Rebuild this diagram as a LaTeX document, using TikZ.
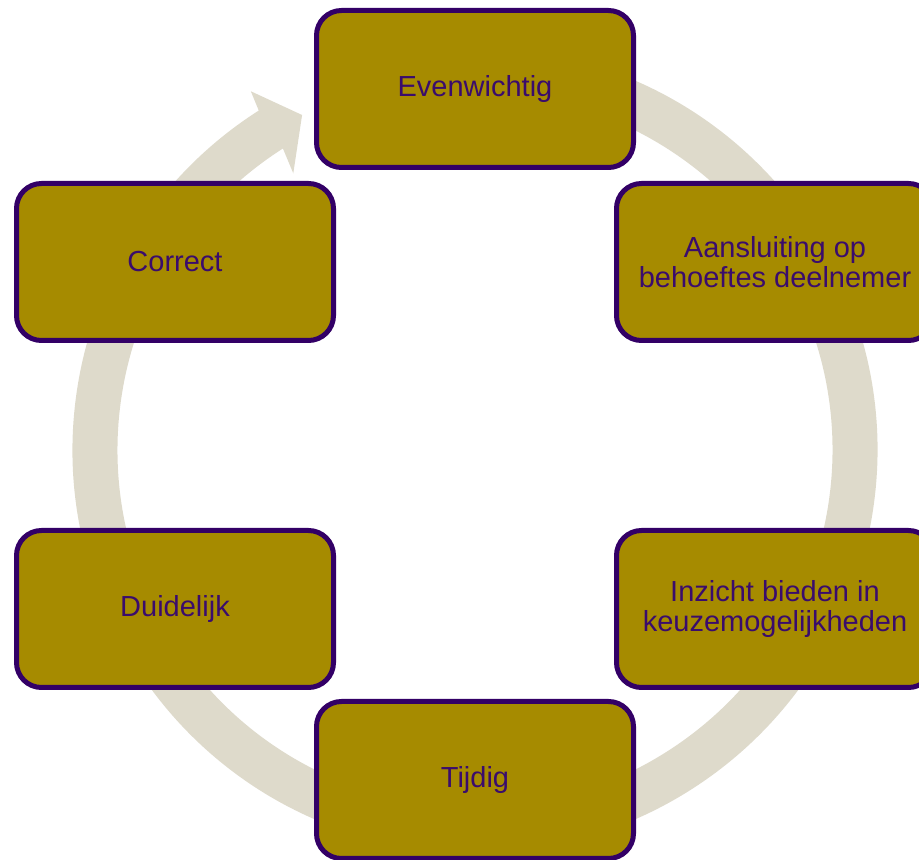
\documentclass[tikz,border=0pt]{standalone}
\usepackage{fontspec}
\setmainfont{Liberation Sans}
\definecolor{ringgrey}{HTML}{DEDACB}
\definecolor{boxgold}{HTML}{A68B00}
\definecolor{boxline}{HTML}{330066}
\definecolor{boxtext}{HTML}{3A0C6C}
\begin{document}
\begin{tikzpicture}[x=1pt,y=1pt,
	cyclebox/.style={draw=boxline, line width=5pt, fill=boxgold, rounded corners=25pt,
		minimum width=317pt, minimum height=157pt, align=center, text=boxtext,
		font=\fontsize{29}{30}\selectfont}]
	\useasboundingbox (0,0) rectangle (919,860);
	\clip (0,0) rectangle (919,860);
	\coordinate (mid) at (475,410);
	\fill[ringgrey,shift={(mid)}] (80:402.5) arc[start angle=80, end angle=-237.5, radius=402.5pt]
	-- (-238:423) -- (-242.7:377) -- (-236.7:331) -- (-237.5:357.5)
	arc[start angle=-237.5, end angle=80, radius=357.5pt] -- cycle;
	\node[cyclebox] at (475,771) (even) {Evenwichtig};
	\node[cyclebox] at (775,598) (aans) {Aansluiting op\\behoeftes deelnemer};
	\node[cyclebox] at (775,251) (inzi) {Inzicht bieden in\\keuzemogelijkheden};
	\node[cyclebox] at (475,80) (tijd) {Tijdig};
	\node[cyclebox] at (175,251) (duid) {Duidelijk};
	\node[cyclebox] at (175,598) (corr) {Correct};
\end{tikzpicture}
\end{document}
